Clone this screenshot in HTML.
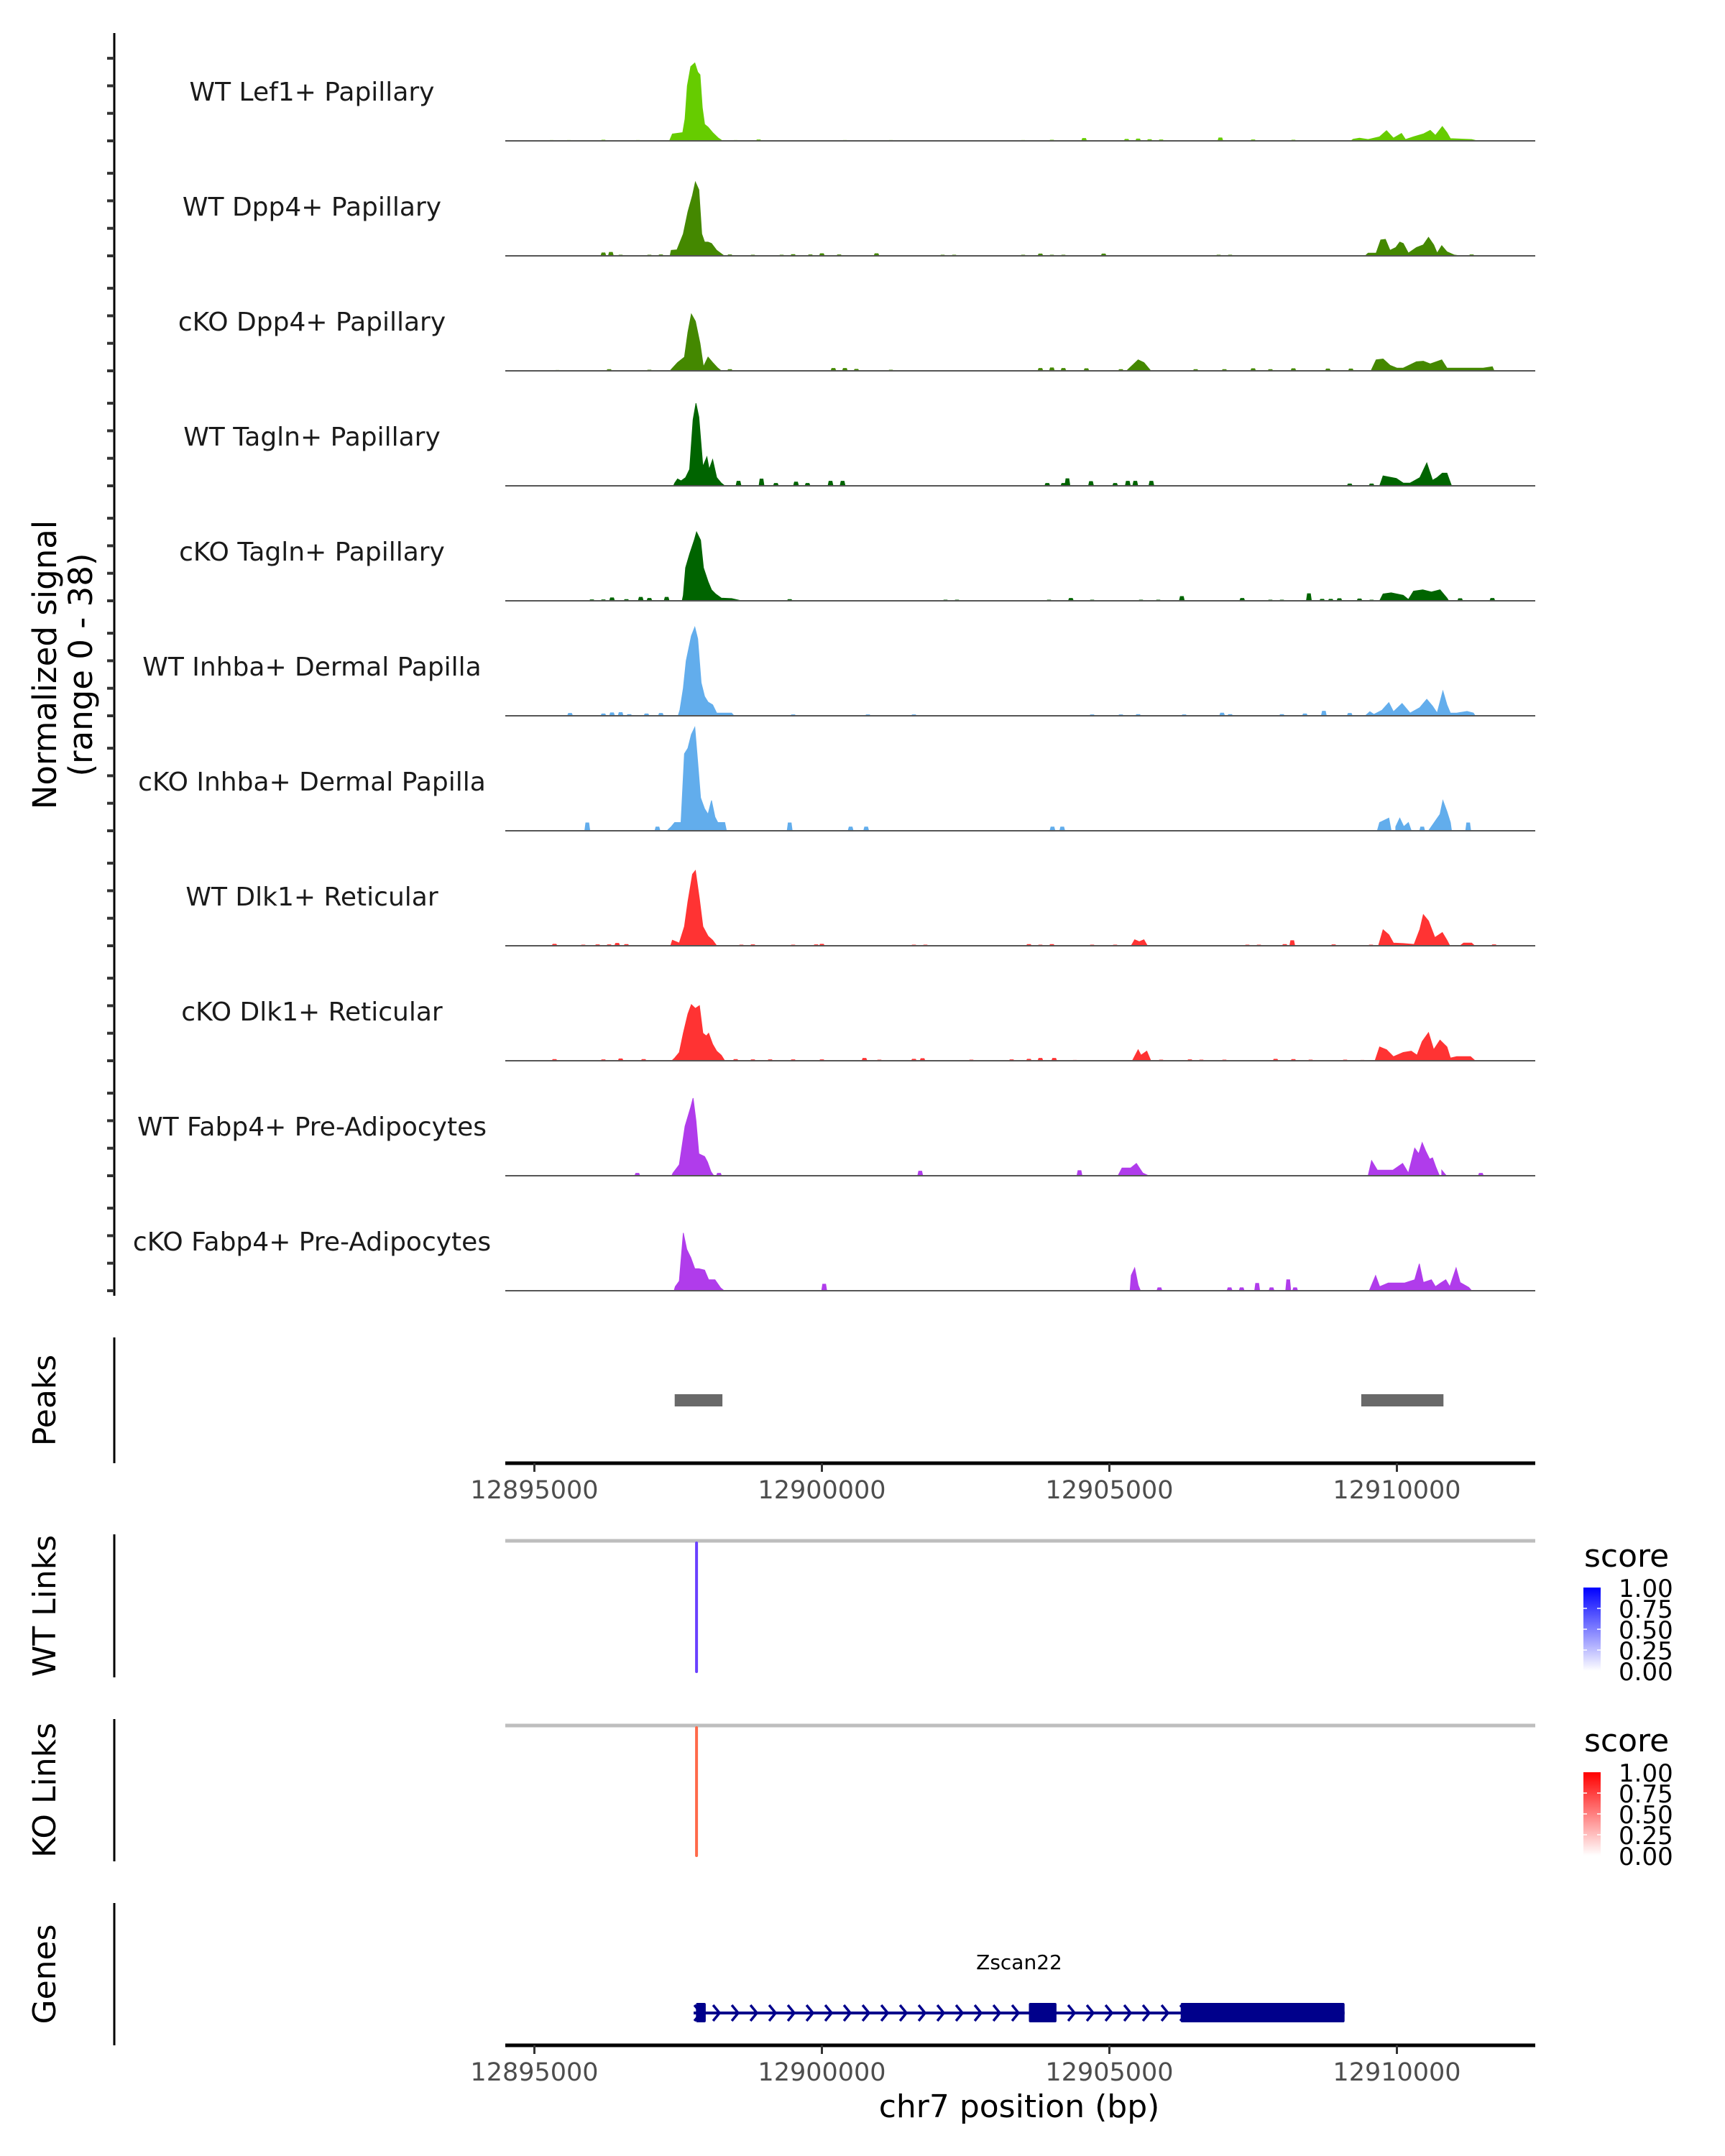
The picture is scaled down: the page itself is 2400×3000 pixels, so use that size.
<!DOCTYPE html>
<html>
<head>
<meta charset="utf-8">
<style>
  html,body{margin:0;padding:0;background:#fff;}
  svg{display:block;}
  text{font-family:"DejaVu Sans","Liberation Sans",sans-serif;}
</style>
</head>
<body>
<svg id="chart" width="2400" height="3000" viewBox="0 0 2400 3000" xmlns="http://www.w3.org/2000/svg">
  <rect x="0" y="0" width="2400" height="3000" fill="#fff"/>
  <g id="tracks"></g>
  <g id="lower"></g>
</svg>
<script>
// ---------- data (positions in kb relative to chr7:12895000) ----------
const trackNames = ["WT Lef1+ Papillary","WT Dpp4+ Papillary","cKO Dpp4+ Papillary","WT Tagln+ Papillary","cKO Tagln+ Papillary","WT Inhba+ Dermal Papilla","cKO Inhba+ Dermal Papilla","WT Dlk1+ Reticular","cKO Dlk1+ Reticular","WT Fabp4+ Pre-Adipocytes","cKO Fabp4+ Pre-Adipocytes"];
const trackColors = ["#66cc00","#448800","#448800","#006400","#006400","#62adec","#62adec","#ff3333","#ff3333","#b03ceb","#b03ceb"];

// contour points [kb, signal]
const sigLef1WT = [[2.35,0],[2.4,2.5],[2.58,3],[2.62,8],[2.66,20],[2.72,27],[2.79,28.3],[2.84,25],[2.88,24],[2.92,12],[2.96,6],[3.02,5],[3.1,3],[3.2,1],[3.27,0],
  [14.2,0],[14.24,0.6],[14.35,1],[14.5,0.5],[14.7,1.5],[14.82,3.7],[14.94,1],[15.08,2.7],[15.15,0.5],[15.29,1.5],[15.46,2.5],[15.58,3.8],[15.67,2],[15.79,5.2],[15.87,3],[15.93,0.8],[16.3,0.5],[16.4,0]];
const sigDpp4WT = [[2.36,0],[2.38,2],[2.48,2.2],[2.59,8],[2.67,16],[2.75,22],[2.8,26.8],[2.86,24],[2.91,8],[2.96,5],[3.02,5],[3.08,4.5],[3.17,2],[3.3,0],
  [14.45,0],[14.5,1],[14.64,1],[14.72,5.8],[14.8,6],[14.88,2],[14.98,3],[15.05,5],[15.11,4.5],[15.2,1],[15.34,3],[15.46,4],[15.55,6.7],[15.64,4],[15.7,1],[15.78,3.7],[15.87,1.5],[16.0,0.3],[16.1,0]];
const sigDpp4KO = [[2.36,0],[2.38,0.5],[2.49,3],[2.61,5],[2.67,14],[2.73,20.6],[2.8,18],[2.88,10],[2.94,1.5],[3.02,5],[3.1,3],[3.19,1],[3.25,0],
  [10.3,0],[10.4,2],[10.5,4],[10.6,3],[10.72,0],
  [14.55,0],[14.64,4],[14.76,4.3],[14.88,2],[15.0,1],[15.11,1],[15.34,3.3],[15.46,3.5],[15.58,2.5],[15.78,4],[15.87,1],[16.04,1],[16.5,1],[16.66,1.5],[16.69,0]];
const sigTaglnWT = [[2.42,0],[2.44,1],[2.49,2.5],[2.55,1.8],[2.63,3],[2.7,6],[2.76,24],[2.81,30],[2.86,25],[2.93,7],[3.0,10.5],[3.04,6],[3.1,9.5],[3.17,3],[3.25,1],[3.31,0],
  [14.7,0],[14.76,3.6],[14.99,2.7],[15.11,1],[15.23,1],[15.4,3],[15.52,8.3],[15.62,2],[15.7,3],[15.79,4.6],[15.87,4.6],[15.95,0]];
const sigTaglnKO = [[2.57,0],[2.59,2],[2.63,12],[2.7,17],[2.78,22],[2.82,25],[2.89,22],[2.94,12],[3.02,7],[3.08,4],[3.15,2.5],[3.25,1],[3.43,0.8],[3.6,0],
  [14.7,0],[14.76,2.5],[14.9,2.9],[15.11,2],[15.2,0.5],[15.29,3.5],[15.45,4],[15.6,3.2],[15.75,4],[15.87,1],[15.9,0]];
const sigInhbaWT = [[2.5,0],[2.53,2],[2.59,10],[2.64,20],[2.73,29],[2.79,32.2],[2.84,28],[2.9,12],[2.96,7],[3.02,5],[3.1,4],[3.17,1],[3.43,1],[3.47,0],
  [14.45,0],[14.53,1.5],[14.6,0.5],[14.74,2],[14.86,4.8],[14.94,1.5],[15.09,4.5],[15.23,1],[15.4,3],[15.52,6],[15.62,3.5],[15.7,1],[15.8,9],[15.87,4],[15.93,1],[16.04,1],[16.22,1.6],[16.33,1],[16.36,0]];
const sigInhbaKO = [[2.31,0],[2.33,0.5],[2.38,1.5],[2.44,3],[2.55,3],[2.61,28],[2.67,30],[2.73,35],[2.79,37.6],[2.84,25],[2.89,12],[2.96,8],[3.02,6],[3.08,11],[3.14,5],[3.19,3],[3.31,3],[3.34,0],
  [14.66,0],[14.7,3],[14.86,4.6],[14.9,0],[14.98,1.5],[15.05,4.6],[15.12,1.5],[15.2,3],[15.25,0],
  [15.55,0],[15.65,3],[15.75,6],[15.8,11],[15.87,7],[15.93,3],[15.95,0]];
const sigDlk1WT = [[2.37,0],[2.4,2],[2.52,1],[2.61,7],[2.67,16],[2.75,26],[2.8,27.3],[2.87,17],[2.93,7],[3.02,3.5],[3.1,2],[3.17,0],
  [10.38,0],[10.44,2.2],[10.52,1.5],[10.6,2.2],[10.66,0],
  [14.68,0],[14.76,5.8],[14.86,4],[14.94,1],[15.11,0.8],[15.3,0.5],[15.4,6],[15.46,11.3],[15.55,9],[15.66,3],[15.79,4.8],[15.87,2],[15.92,0],
  [16.1,0],[16.16,1],[16.3,1],[16.35,0]];
const sigDlk1KO = [[2.39,0],[2.44,1],[2.52,3],[2.59,10],[2.67,17],[2.73,20.4],[2.8,19],[2.87,20],[2.93,10],[2.99,9],[3.03,10],[3.1,6],[3.17,3.5],[3.25,2],[3.31,0],
  [10.4,0],[10.5,4],[10.55,2],[10.65,3.5],[10.72,0],
  [14.62,0],[14.7,5],[14.82,4],[14.94,1.5],[15.11,3],[15.25,3.5],[15.35,2],[15.44,7],[15.55,10.2],[15.64,4],[15.75,7.5],[15.87,5],[15.93,1],[16.04,1.5],[16.28,1.5],[16.36,0]];
const sigFabp4WT = [[2.39,0],[2.41,1],[2.52,4],[2.62,18],[2.72,25],[2.76,28.2],[2.81,20],[2.86,8],[2.96,7],[3.01,5],[3.07,1.5],[3.12,0],
  [10.15,0],[10.22,2.8],[10.37,2.8],[10.47,4.5],[10.58,1],[10.68,0],
  [14.5,0],[14.56,5.5],[14.66,2],[14.93,2],[15.1,4.5],[15.2,1],[15.31,10],[15.38,8],[15.44,12],[15.5,9],[15.57,6],[15.62,6.5],[15.68,3],[15.74,0],[15.78,2],[15.86,0]];
const sigFabp4KO = [[2.43,0],[2.45,1.5],[2.52,3.5],[2.59,21],[2.65,15],[2.72,12],[2.79,8],[2.86,8],[2.96,7.5],[3.03,4],[3.14,4],[3.24,1],[3.3,0],
  [10.36,0],[10.38,5.6],[10.44,8.3],[10.5,2],[10.54,0],
  [14.52,0],[14.63,5.5],[14.7,1.5],[14.85,2.8],[15.13,2.8],[15.31,4],[15.35,7],[15.39,9.8],[15.46,3],[15.6,4],[15.67,1.5],[15.76,2.8],[15.85,4],[15.92,1.5],[16.03,8.3],[16.1,3],[16.25,1.2],[16.3,0]];

// isolated small bumps [kb, signal]
const bumpLef1WT = [[0.3,0.3],[0.6,0.3],[1.2,0.4],[1.8,0.3],[3.5,0.3],[3.9,0.5],[5.4,0.3],[6.2,0.3],[8.5,0.3],[9.0,0.4],[9.56,1.0],[10.3,0.7],[10.5,0.8],[10.7,0.6],[10.9,0.5],[11.93,1.2],[12.5,0.5],[13.2,0.4]];
const bumpDpp4WT = [[1.2,1.2],[1.33,1.4],[1.5,0.4],[2.0,0.4],[2.2,0.5],[3.4,0.5],[3.8,0.4],[4.3,0.4],[4.5,0.6],[4.8,0.5],[5.0,0.9],[5.3,0.5],[5.95,0.9],[7.1,0.4],[7.3,0.4],[8.5,0.4],[8.8,0.8],[9.0,0.4],[9.2,0.4],[9.9,0.8],[11.9,0.4],[12.1,0.4],[16.3,0.5]];
const bumpDpp4KO = [[0.4,0.3],[1.3,0.6],[2.0,0.4],[3.4,0.6],[5.2,1],[5.4,1],[5.6,0.7],[6.2,0.4],[8.8,1],[9.0,1.2],[9.2,1],[9.6,0.9],[10.2,0.6],[11.5,0.6],[12.0,0.6],[12.5,0.9],[12.8,0.6],[13.2,0.9],[13.8,0.8],[14.2,0.8]];
const bumpTaglnWT = [[3.55,1.8],[3.95,2.6],[4.2,1],[4.55,1.5],[4.75,1],[5.15,1.8],[5.36,1.8],[8.92,1],[9.2,1],[9.27,2.7],[9.68,1.7],[10.1,1],[10.32,1.8],[10.45,1.8],[10.73,1.8],[14.18,0.8],[14.56,0.8]];
const bumpTaglnKO = [[1.0,0.5],[1.2,0.5],[1.35,1.2],[1.6,0.6],[1.85,1.4],[2.0,1],[2.3,1.4],[4.44,0.6],[7.15,0.4],[7.35,0.4],[8.95,0.4],[9.33,1],[9.7,0.4],[10.55,0.4],[10.85,0.4],[11.26,1.7],[12.31,1],[12.8,0.4],[13.0,0.4],[13.47,2.7],[13.7,0.7],[13.85,0.7],[14.0,0.9],[14.35,0.8],[14.56,0.4],[16.1,0.9],[16.66,1]];
const bumpInhbaWT = [[0.62,1],[1.2,0.8],[1.35,1.2],[1.5,1.3],[1.65,0.6],[1.95,0.8],[2.2,1],[4.5,0.5],[5.8,0.5],[6.6,0.5],[9.7,0.5],[10.2,0.5],[10.5,0.6],[11.3,0.5],[11.96,1.1],[12.1,0.6],[13.0,0.6],[13.4,0.8],[13.73,1.8],[14.18,1]];
const bumpInhbaKO = [[0.92,3],[2.14,1.5],[4.44,3],[5.5,1.5],[5.77,1.5],[9.01,1.5],[9.18,1.5],[15.44,1.5],[16.24,3]];
const bumpDlk1WT = [[0.35,0.7],[0.85,0.4],[1.1,0.5],[1.3,0.5],[1.44,1],[1.6,0.6],[3.6,0.4],[3.8,0.5],[4.5,0.4],[4.9,0.5],[5.0,0.7],[6.6,0.4],[6.8,0.4],[8.6,0.6],[8.8,0.4],[9.0,0.6],[9.7,0.4],[10.1,0.4],[12.4,0.4],[12.6,0.4],[13.18,2],[13.05,0.6],[13.9,0.5],[14.55,0.4],[16.69,0.5]];
const bumpDlk1KO = [[0.35,0.6],[1.2,0.5],[1.5,0.8],[1.9,0.6],[3.5,0.6],[3.8,0.5],[4.1,0.5],[4.5,0.5],[5.0,0.5],[5.74,1],[6.0,0.4],[6.6,0.7],[6.75,0.9],[7.6,0.4],[8.3,0.5],[8.6,0.7],[8.8,1],[9.04,1],[9.4,0.3],[10.9,0.4],[11.4,0.5],[11.6,0.4],[12.0,0.4],[12.89,0.7],[13.2,0.6],[13.5,0.4],[14.1,0.4],[14.4,0.3]];
const bumpFabp4WT = [[1.79,1],[3.21,1],[6.71,1.8],[9.48,2],[16.46,1]];
const bumpFabp4KO = [[5.04,2.5],[10.87,1.2],[12.09,1.2],[12.3,1.2],[12.57,2.8],[12.82,1.2],[13.11,4.1],[13.23,1.2]];

const trackSignals = [sigLef1WT,sigDpp4WT,sigDpp4KO,sigTaglnWT,sigTaglnKO,sigInhbaWT,sigInhbaKO,sigDlk1WT,sigDlk1KO,sigFabp4WT,sigFabp4KO];
const trackBumps = [bumpLef1WT,bumpDpp4WT,bumpDpp4KO,bumpTaglnWT,bumpTaglnKO,bumpInhbaWT,bumpInhbaKO,bumpDlk1WT,bumpDlk1KO,bumpFabp4WT,bumpFabp4KO];

const xTicks = [0,5,10,15];
const xTickLabels = ["12895000","12900000","12905000","12910000"];
const peakRegions = [[2.44,3.27],[14.38,15.81]];
const wtLinks = [[2.82,1.0]];
const koLinks = [[2.82,0.7]];
const geneSpan = [2.77,14.09];
const geneExons = [[2.81,2.98],[8.6,9.08],[11.24,14.09]];
const legendLabels = ["1.00","0.75","0.50","0.25","0.00"];

// ---------- scales ----------
const X0 = 743.5, PX_PER_KB = 80;
const xs = kb => X0 + kb * PX_PER_KB;
const AX_L = 703, AX_R = 2136;
const BASE0 = 196, TRACK_STEP = 160, PX_PER_UNIT = 3.83;
const ys = (i, v) => BASE0 + i * TRACK_STEP - v * PX_PER_UNIT;

const NS = "http://www.w3.org/2000/svg";
function mk(tag, attrs, parent, txt){
  const e = document.createElementNS(NS, tag);
  for (const k in attrs) e.setAttribute(k, attrs[k]);
  if (txt !== undefined) e.textContent = txt;
  parent.appendChild(e);
  return e;
}
const tracksG = document.getElementById('tracks');
const lowerG = document.getElementById('lower');

let yl = mk('line',{x1:159,y1:46,x2:159,y2:1803,stroke:'#000','stroke-width':3},tracksG);



for (let i=0;i<trackNames.length;i++){
  const g = mk('g',{},tracksG);
  
  
  const base = ys(i,0);
  for (let k=0;k<4;k++){
    const t = mk('line',{x1:149,y1:base-k*38.3,x2:159,y2:base-k*38.3,stroke:'#333','stroke-width':4},g);
    
    
  }
  const lab = mk('text',{x:434,y:base-56,'text-anchor':'middle','font-size':36,fill:'#1a1a1a'},g,trackNames[i]);
  
  
  const pts = trackSignals[i];
  let d = '';
  let open = false;
  pts.forEach((p,j)=>{
    const x = xs(p[0]).toFixed(1), y = ys(i,p[1]).toFixed(1);
    if (!open){ d += 'M'+x+','+base+' L'+x+','+y+' '; open = true; }
    else { d += 'L'+x+','+y+' '; }
    if (p[1]===0 && j>0 && open && pts[j-1][1]!==0){ d += 'Z '; open=false; }
  });
  if (open) d += 'L'+xs(pts[pts.length-1][0]).toFixed(1)+','+base+' Z';
  const area = mk('path',{d:d,fill:trackColors[i],stroke:trackColors[i],'stroke-width':1},g);
  
  
  trackBumps[i].forEach(b=>{
    const x = xs(b[0]), y = ys(i,b[1]);
    const bp = mk('path',{d:`M${x-4},${base} L${x-2.5},${y} L${x+2.5},${y} L${x+4},${base} Z`,fill:trackColors[i]},g);
    
    
  });
  const bl = mk('line',{x1:AX_L,y1:base,x2:AX_R,y2:base,stroke:'#555','stroke-width':2},g);
  
  
}
const yt = mk('text',{transform:'translate(78,925) rotate(-90)','text-anchor':'middle','font-size':45,fill:'#000'},tracksG);


mk('tspan',{x:0,dy:0},yt,'Normalized signal');
mk('tspan',{x:0,dy:50},yt,'(range 0 - 38)');

// ---------- lower panels ----------
function panelAxis(y1,y2,title,name){
  const l = mk('line',{x1:159,y1:y1,x2:159,y2:y2,stroke:'#000','stroke-width':3},lowerG);
  
  
  const t = mk('text',{transform:`translate(77,${(y1+y2)/2}) rotate(-90)`,'text-anchor':'middle','font-size':44,fill:'#000'},lowerG,title);
  
  
}
function xAxis(y,name){
  const g = mk('g',{},lowerG);
  
  
  mk('line',{x1:AX_L,y1:y,x2:AX_R,y2:y,stroke:'#000','stroke-width':5},g);
  xTicks.forEach((t,j)=>{
    const tk = mk('line',{x1:xs(t),y1:y,x2:xs(t),y2:y+12,stroke:'#333','stroke-width':3},g);
    
    
    const tl = mk('text',{x:xs(t),y:y+49,'text-anchor':'middle','font-size':35,fill:'#4d4d4d'},g,xTickLabels[j]);
    
    
  });
}
panelAxis(1861,2036,'Peaks','peaks');
peakRegions.forEach(p=>{
  const r = mk('rect',{x:xs(p[0]),y:1940,width:xs(p[1])-xs(p[0]),height:17,fill:'#696969'},lowerG);
  
  
});
xAxis(2036,'peaks-x-axis');

function linksPanel(y1,y2,links,color,title,name,legTop,colHi){
  panelAxis(y1,y2,title,name);
  const gl = mk('line',{x1:AX_L,y1:y1+9,x2:AX_R,y2:y1+9,stroke:'#bebebe','stroke-width':5},lowerG);
  
  
  links.forEach(lk=>{
    const l = mk('line',{x1:xs(lk[0]),y1:y1+12,x2:xs(lk[0]),y2:y2-8,stroke:color,'stroke-width':4,'stroke-linecap':'round'},lowerG);
    
    
  });
  const lg = mk('g',{},lowerG);
  
  
  mk('text',{x:2204,y:legTop,'font-size':44,fill:'#000'},lg,'score');
  const gid = 'grad-'+name;
  const defs = mk('defs',{},lg);
  const gr = mk('linearGradient',{id:gid,x1:0,y1:0,x2:0,y2:1},defs);
  mk('stop',{offset:'0%','stop-color':colHi},gr);
  mk('stop',{offset:'100%','stop-color':'#ffffff'},gr);
  const bar = mk('rect',{x:2203,y:legTop+29,width:24,height:116,fill:`url(#${gid})`},lg);
  
  
  legendLabels.forEach((s,j)=>{
    const yy = legTop+29+j*29;
    if (j>0 && j<4){ mk('line',{x1:2203,y1:yy,x2:2208,y2:yy,stroke:'#fff','stroke-width':1.5},lg); mk('line',{x1:2222,y1:yy,x2:2227,y2:yy,stroke:'#fff','stroke-width':1.5},lg); }
    const t = mk('text',{x:2252,y:yy+13,'font-size':34,fill:'#000'},lg,s);
    
    
  });
}
linksPanel(2135,2334,wtLinks,'#6a40ff','WT Links','wt-links',2180,'#0000ff');
linksPanel(2392,2590,koLinks,'#ff6a4a','KO Links','ko-links',2437,'#ff0000');

panelAxis(2648,2846,'Genes','genes');
const gg = mk('g',{},lowerG);


const GY = 2801;
mk('line',{x1:xs(geneSpan[0]),y1:GY,x2:xs(geneSpan[1]),y2:GY,stroke:'#00008b','stroke-width':4},gg);
for (let x = xs(geneSpan[0])+6; x < xs(geneSpan[1]); x += 26){
  mk('polyline',{points:`${x-5},${GY-11} ${x+4},${GY} ${x-5},${GY+11}`,fill:'none',stroke:'#00008b','stroke-width':3.5},gg);
}
geneExons.forEach(e=>{
  const r = mk('rect',{x:xs(e[0]),y:GY-14,width:xs(e[1])-xs(e[0]),height:27,fill:'#00008b',rx:2},gg);
  
  
});
const gl = mk('text',{x:1418,y:2740,'text-anchor':'middle','font-size':28,fill:'#000'},gg,'Zscan22');


xAxis(2846,'genes-x-axis');
const xt = mk('text',{x:1418,y:2946,'text-anchor':'middle','font-size':44,fill:'#000'},lowerG,'chr7 position (bp)');


</script>
</body>
</html>
